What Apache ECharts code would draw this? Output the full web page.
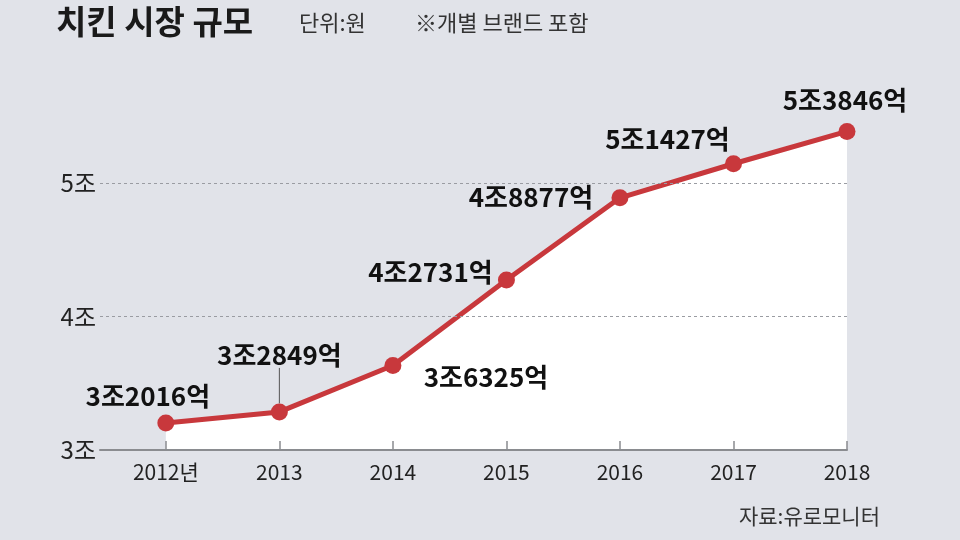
<!DOCTYPE html>
<html><head><meta charset="utf-8">
<script src="https://cdn.jsdelivr.net/npm/echarts@6/dist/echarts.min.js"></script>
<style>html,body{margin:0;padding:0;background:#e1e3e9;}#c{width:960px;height:540px;}</style>
</head><body><div id="c"></div>
<script>
const years = [2012, 2013, 2014, 2015, 2016, 2017, 2018];
const values = [32016, 32849, 36325, 42731, 48877, 51427, 53846]; // 억원
const yTicks = [30000, 40000, 50000];
const gridLines = [40000, 50000];
const labelOffsets = [[-18, -27], [0, -57], [93, 12], [-76, -8], [-89, -1], [-66, -25], [-2, -31]];

const FONT = '"Noto Sans CJK KR", "Noto Sans", sans-serif';
const chart = echarts.init(document.getElementById('c'), null, {renderer: 'canvas'});

function fmtLabel(v) {
  return Math.floor(v / 10000) + '조' + (v % 10000) + '억';
}

chart.setOption({
  backgroundColor: '#e1e3e9',
  animation: false,
  textStyle: {fontFamily: FONT},
  grid: {left: 100, right: 113, top: 116, bottom: 90},
  xAxis: {
    type: 'value', min: 2011.42, max: 2018, z: 5,
    axisLine: {show: true, lineStyle: {color: '#8a8c90', width: 2}},
    axisTick: {show: true, inside: true, length: 9, customValues: years, lineStyle: {color: '#8a8c90', width: 1.5}},
    axisLabel: {customValues: years, margin: 12, fontSize: 21, color: '#222', fontFamily: FONT,
      formatter: v => v === years[0] ? v + '년' : String(v)},
    splitLine: {show: false}
  },
  yAxis: {
    type: 'value', min: 30000, max: 55000, interval: 5000,
    axisLine: {show: false}, axisTick: {show: false}, splitLine: {show: false},
    axisLabel: {margin: 4, fontSize: 24, color: '#222', fontFamily: FONT,
      formatter: v => yTicks.indexOf(v) >= 0 ? (v / 10000) + '조' : ''}
  },
  series: [{
    type: 'line',
    data: years.map((y, i) => ({
      value: [y, values[i]],
      labelLine: {show: i === 1, lineStyle: {color: '#555', width: 1}}
    })),
    symbol: 'circle', symbolSize: 17,
    lineStyle: {color: '#c8383c', width: 5},
    itemStyle: {color: '#c8383c'},
    areaStyle: {color: '#ffffff', opacity: 1, origin: 'start'},
    z: 3,
    label: {
      show: true, position: 'inside', fontSize: 26, fontWeight: 'bold', color: '#111',
      fontFamily: FONT,
      formatter: p => fmtLabel(p.value[1])
    },
    labelLayout: function (params) {
      const o = labelOffsets[params.dataIndex];
      return {dx: o[0], dy: o[1]};
    },
    markLine: {
      silent: true, symbol: 'none', label: {show: false},
      lineStyle: {color: '#9a9ca2', type: [3, 3], width: 1},
      data: gridLines.map(v => ({yAxis: v}))
    }
  }],
  graphic: [
    {type: 'text', left: 56, top: 5, style: {text: '치킨 시장 규모', font: 'bold 33px ' + FONT, fill: '#1a1a1a'}},
    {type: 'text', left: 299, top: 12, style: {text: '단위:원', font: '22px ' + FONT, fill: '#333'}},
    {type: 'text', left: 415, top: 12, style: {text: '※개별 브랜드 포함', font: '22px ' + FONT, fill: '#333'}},
    {type: 'text', right: 80, top: 506, style: {text: '자료:유로모니터', font: '21px ' + FONT, fill: '#333'}}
  ]
});
</script></body></html>
